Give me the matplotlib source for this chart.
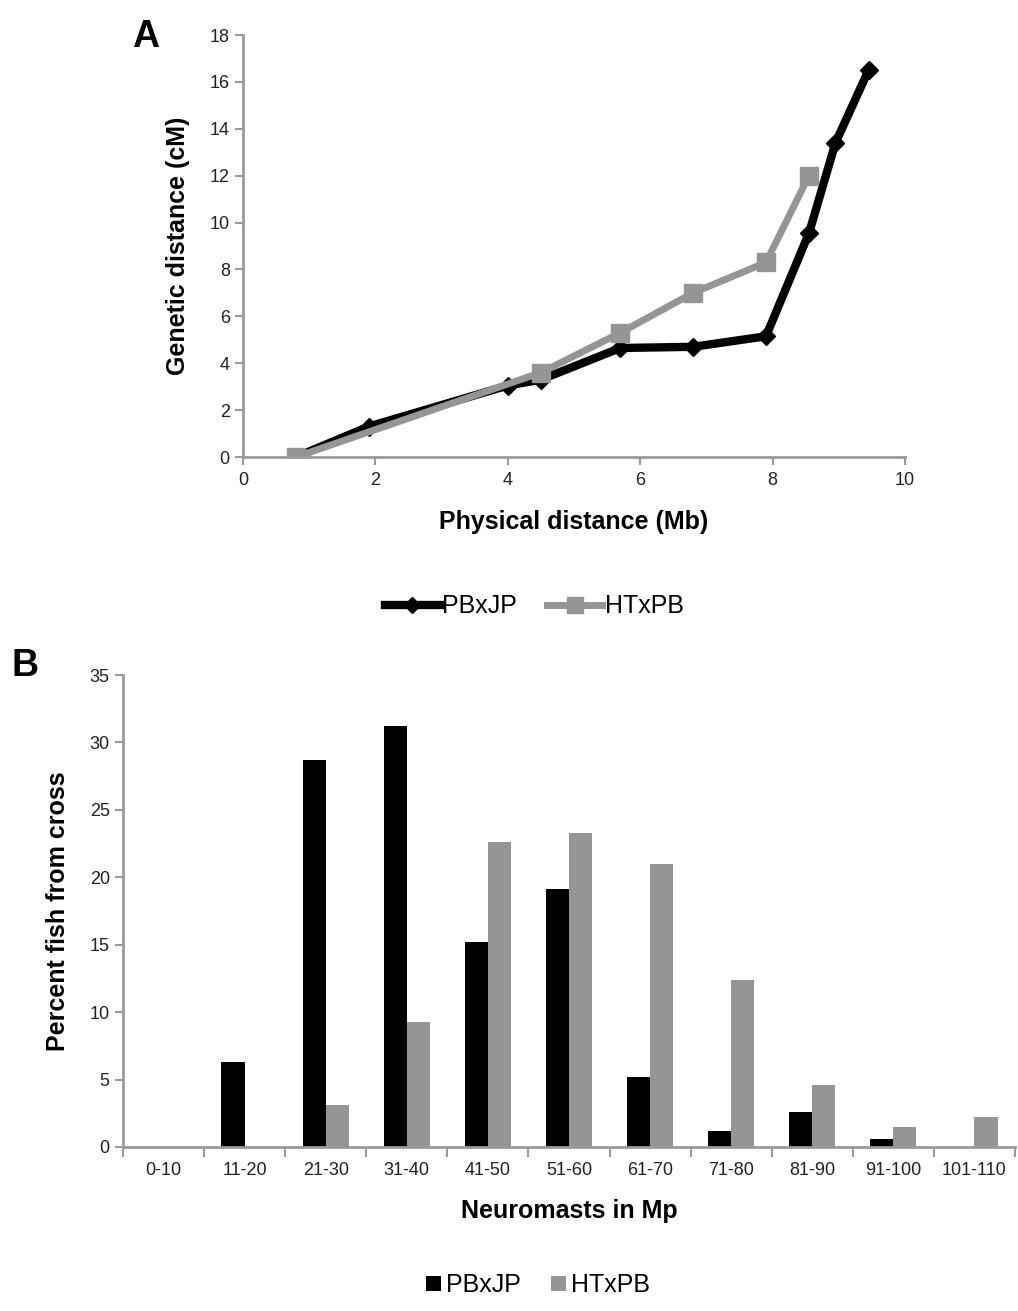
import numpy as np
import matplotlib
matplotlib.use('Agg')
import matplotlib.pyplot as plt

plt.rcParams['font.family'] = ['Liberation Sans', 'DejaVu Sans']

# Painel A: distância física × genética
pbxjp_x = [0.8, 1.9, 4.0, 4.5, 5.7, 6.8, 7.9, 8.55, 8.95, 9.45]
pbxjp_y = [0.0, 1.3, 3.05, 3.3, 4.65, 4.7, 5.15, 9.55, 13.4, 16.5]
htxpb_x = [0.8, 4.5, 5.7, 6.8, 7.9, 8.55]
htxpb_y = [0.0, 3.6, 5.3, 7.0, 8.3, 12.0]

# Painel B: distribuição de neuromastos
categorias = ['0-10', '11-20', '21-30', '31-40', '41-50', '51-60',
              '61-70', '71-80', '81-90', '91-100', '101-110']
pct_pbxjp = [0, 6.3, 28.7, 31.2, 15.2, 19.1, 5.2, 1.2, 2.6, 0.6, 0]
pct_htxpb = [0, 0, 3.1, 9.3, 22.6, 23.3, 21.0, 12.4, 4.6, 1.5, 2.2]

PRETO = '#000000'
CINZA = '#959595'
EIXO = '#9a9a9a'

fig = plt.figure(figsize=(10.18, 13.11), dpi=100)


def estilo_eixos(ax):
    for s in ['top', 'right']:
        ax.spines[s].set_visible(False)
    for s in ['left', 'bottom']:
        ax.spines[s].set_color(EIXO)
        ax.spines[s].set_linewidth(2)
    ax.tick_params(direction='out', color=EIXO, width=1.5, length=6,
                   labelsize=13, labelcolor='#222222')


# ---- A ----
ax1 = fig.add_axes([0.2387, 0.6514, 0.6503, 0.3219])
ax1.plot(pbxjp_x, pbxjp_y, color=PRETO, lw=6, marker='D', ms=9,
         mfc=PRETO, mec=PRETO, label='PBxJP', solid_joinstyle='round')
ax1.plot(htxpb_x, htxpb_y, color=CINZA, lw=5, marker='s', ms=13,
         mfc=CINZA, mec=CINZA, label='HTxPB')
ax1.set_xlim(0, 10)
ax1.set_ylim(0, 18)
ax1.set_xticks(range(0, 11, 2))
ax1.set_yticks(range(0, 19, 2))
estilo_eixos(ax1)
ax1.tick_params(axis='x', pad=5)
ax1.set_xlabel('Physical distance (Mb)', fontsize=18, fontweight='bold', labelpad=15)
ax1.set_ylabel('Genetic distance (cM)', fontsize=18, fontweight='bold', labelpad=14)
ax1.legend(loc='upper center', bbox_to_anchor=(0.44, -0.272), ncol=2, frameon=False,
           fontsize=18, handlelength=2.2, handletextpad=0.1, columnspacing=1.2,
           markerscale=0.85)
fig.text(0.143, 0.972, 'A', fontsize=27, fontweight='bold', ha='center', va='center')

# ---- B ----
ax2 = fig.add_axes([0.1208, 0.1251, 0.8762, 0.36])
x = np.arange(len(categorias))
w = 1 / 3.5
ax2.bar(x - w / 2, pct_pbxjp, w, color=PRETO, label='PBxJP')
ax2.bar(x + w / 2, pct_htxpb, w, color=CINZA, label='HTxPB')
ax2.set_xlim(-0.5, len(categorias) - 0.5)
ax2.set_ylim(0, 35)
ax2.set_yticks(range(0, 36, 5))
ax2.set_xticks(x)
ax2.set_xticklabels(categorias)
ax2.set_xticks(np.arange(-0.5, len(categorias), 1), minor=True)
estilo_eixos(ax2)
ax2.tick_params(axis='x', which='major', length=0, pad=11)
ax2.tick_params(axis='x', which='minor', direction='out', color=EIXO, width=1.5, length=7)
ax2.set_xlabel('Neuromasts in Mp', fontsize=18, fontweight='bold', labelpad=14)
ax2.set_ylabel('Percent fish from cross', fontsize=18, fontweight='bold', labelpad=14)
ax2.legend(loc='upper center', bbox_to_anchor=(0.465, -0.22), ncol=2, frameon=False,
           fontsize=18, handlelength=0.6, handleheight=0.6, handletextpad=0.2,
           columnspacing=1.2)
fig.text(0.025, 0.492, 'B', fontsize=27, fontweight='bold', ha='center', va='center')

fig.savefig('out.png', dpi=100)
